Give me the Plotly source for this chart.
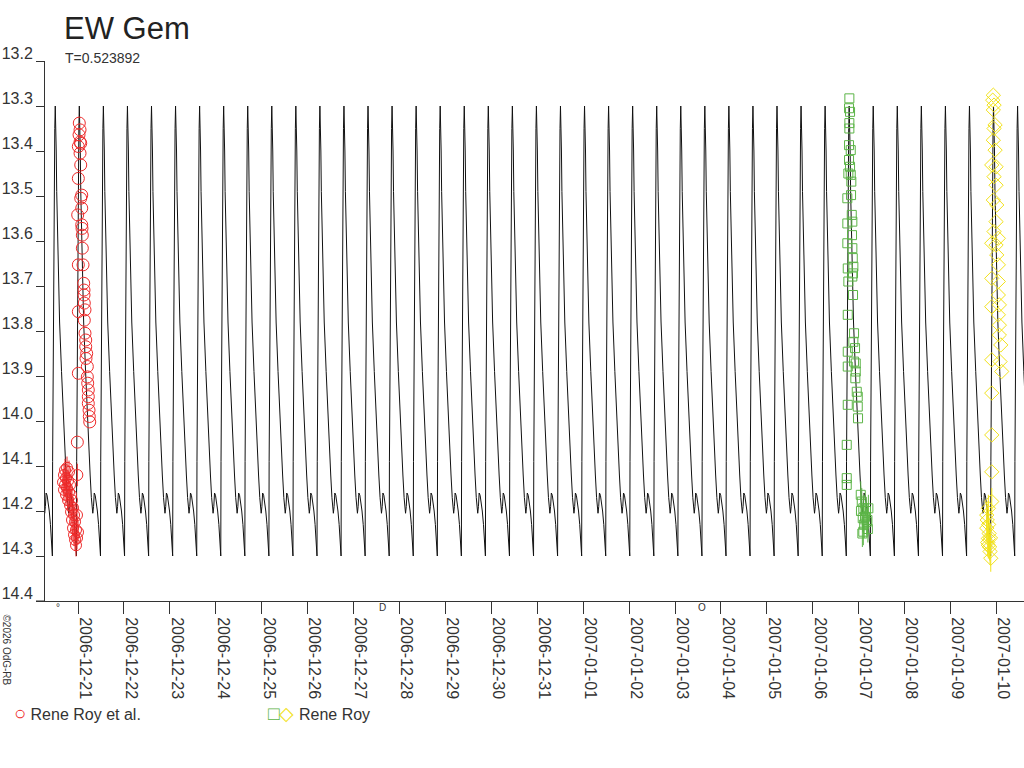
import numpy as np
import pandas as pd
import plotly.graph_objects as go

# times are JD - 2454000 (2006-12-21 00:00 UT = 90.5)
JD0 = 90.5
DATE0 = pd.Timestamp('2006-12-21')

# model light curve: one cycle (phase from minimum)
periode = 0.523892
epoque_min = 93.085
phase_modele = [0.00, 0.01, 0.04, 0.07, 0.10, 0.12, 0.14, 0.16, 0.18, 0.22, 0.30, 0.38, 0.46,
                0.52, 0.57, 0.62, 0.65, 0.68, 0.71, 0.74, 0.78, 0.82, 0.87, 0.92, 0.96]
mag_modele = [14.30, 14.09, 13.78, 13.49, 13.35, 13.30, 13.33, 13.40, 13.49, 13.62, 13.78, 13.89, 14.00,
              14.07, 14.12, 14.17, 14.19, 14.205, 14.19, 14.16, 14.165, 14.18, 14.20, 14.23, 14.27]

# Rene Roy et al. (red circles)
rouge_jd = [90.528, 90.544, 90.522, 90.559, 90.507, 90.544, 90.544, 90.559, 90.507, 90.581, 90.559,
            90.493, 90.581, 90.581, 90.587, 90.594, 90.594, 90.507, 90.609, 90.624, 90.631, 90.631,
            90.637, 90.507, 90.652, 90.637, 90.652, 90.668, 90.668, 90.689, 90.674, 90.507, 90.703,
            90.703, 90.711, 90.724, 90.724, 90.724, 90.740, 90.746, 90.755, 90.485]
rouge_mag = [13.338, 13.353, 13.364, 13.383, 13.390, 13.405, 13.380, 13.431, 13.461, 13.498, 13.505,
             13.542, 13.527, 13.564, 13.572, 13.587, 13.616, 13.653, 13.653, 13.694, 13.709, 13.720,
             13.738, 13.757, 13.753, 13.776, 13.805, 13.820, 13.835, 13.850, 13.861, 13.894, 13.879,
             13.902, 13.916, 13.931, 13.946, 13.961, 13.976, 13.990, 14.002, 14.047]
rouge2_jd = [90.173, 90.195, 90.195, 90.217, 90.217, 90.239, 90.239, 90.260, 90.260, 90.282, 90.282,
             90.304, 90.304, 90.326, 90.326, 90.348, 90.348, 90.369, 90.369, 90.391, 90.391, 90.413,
             90.413, 90.435, 90.435, 90.456, 90.456, 90.478, 90.478, 90.500, 90.485]
rouge2_mag = [14.136, 14.120, 14.153, 14.109, 14.142, 14.127, 14.164, 14.104, 14.149, 14.133, 14.176,
              14.113, 14.158, 14.142, 14.187, 14.164, 14.202, 14.176, 14.220, 14.193, 14.238, 14.209,
              14.253, 14.224, 14.264, 14.242, 14.276, 14.209, 14.260, 14.247, 14.120]

# Rene Roy (green squares)
vert_jd = [107.297, 107.290, 107.312, 107.297, 107.297, 107.290, 107.327, 107.290, 107.312, 107.275,
           107.327, 107.340, 107.334, 107.253, 107.349, 107.362, 107.253, 107.355, 107.253, 107.362,
           107.371, 107.262, 107.384, 107.377, 107.362, 107.275, 107.377, 107.262, 107.399, 107.384,
           107.262, 107.421, 107.399, 107.262, 107.436, 107.436, 107.427, 107.262, 107.458, 107.480,
           107.480, 107.486, 107.240, 107.240, 107.240]
vert_mag = [13.283, 13.305, 13.313, 13.338, 13.350, 13.387, 13.398, 13.420, 13.435, 13.450,
            13.453, 13.468, 13.498, 13.505, 13.542, 13.557, 13.561, 13.587, 13.605, 13.616,
            13.638, 13.661, 13.657, 13.672, 13.679, 13.690, 13.720, 13.764, 13.805, 13.824,
            13.846, 13.838, 13.868, 13.879, 13.872, 13.890, 13.905, 13.964, 13.935, 13.946,
            13.968, 13.994, 14.053, 14.127, 14.142]
vert2_jd = [107.545, 107.567, 107.601, 107.588, 107.639, 107.676, 107.711, 107.601, 107.550,
            107.620, 107.660, 107.690, 107.580, 107.700]
vert2_mag = [14.164, 14.179, 14.194, 14.216, 14.213, 14.224, 14.194, 14.246, 14.200,
             14.230, 14.200, 14.220, 14.250, 14.240]

# Rene Roy (yellow diamonds)
jaune_jd = [110.432, 110.419, 110.448, 110.432, 110.470, 110.448, 110.432, 110.470, 110.398, 110.491,
            110.448, 110.491, 110.432, 110.506, 110.491, 110.448, 110.541, 110.398, 110.491, 110.506,
            110.541, 110.398, 110.541, 110.541, 110.398, 110.563, 110.541, 110.563, 110.563, 110.594,
            110.398, 110.578, 110.615, 110.398, 110.398, 110.398]
jaune_mag = [13.276, 13.287, 13.298, 13.309, 13.342, 13.350, 13.376, 13.398, 13.431, 13.435,
             13.457, 13.476, 13.509, 13.520, 13.557, 13.579, 13.594, 13.605, 13.609, 13.631,
             13.653, 13.683, 13.690, 13.720, 13.746, 13.742, 13.764, 13.787, 13.809, 13.831,
             13.864, 13.868, 13.890, 13.938, 14.031, 14.113]
jaune2_jd = [110.398, 110.324, 110.289, 110.289, 110.324, 110.324, 110.361, 110.376, 110.300,
             110.340, 110.310, 110.350, 110.370, 110.330]
jaune2_mag = [14.179, 14.194, 14.209, 14.238, 14.261, 14.276, 14.290, 14.305, 14.220,
              14.250, 14.270, 14.280, 14.260, 14.230]

# moon phase marks under the axis
lune_jd = [90.065, 97.14, 104.09]
lune_txt = ['°', 'D', 'O']

x_debut, x_fin = 89.781, 111.10


def en_date(jd):
    return DATE0 + pd.to_timedelta(np.asarray(jd) - JD0, unit='D')


# tile the model cycle over the visible range
k0 = int(np.floor((x_debut - epoque_min) / periode)) - 1
k1 = int(np.ceil((x_fin - epoque_min) / periode)) + 1
t_mod, m_mod = [], []
for k in range(k0, k1):
    for p, m in zip(phase_modele, mag_modele):
        t_mod.append(epoque_min + (k + p) * periode)
        m_mod.append(m)

fig = go.Figure()
fig.add_trace(go.Scatter(x=en_date(t_mod), y=m_mod, mode='lines',
                         line=dict(color='#111111', width=1), hoverinfo='skip'))

rouge = '#ee2a2a'
vert = '#5cb447'
jaune = '#f2e21a'

fig.add_trace(go.Scatter(x=en_date(rouge2_jd), y=rouge2_mag, mode='markers',
                         marker=dict(symbol='circle-open', size=11, color=rouge, line=dict(width=1)),
                         error_y=dict(type='constant', value=0.025, color=rouge, thickness=1, width=0)))
fig.add_trace(go.Scatter(x=en_date(rouge_jd), y=rouge_mag, mode='markers',
                         marker=dict(symbol='circle-open', size=12, color=rouge, line=dict(width=1))))
fig.add_trace(go.Scatter(x=en_date(vert_jd), y=vert_mag, mode='markers',
                         marker=dict(symbol='square-open', size=9, color=vert, line=dict(width=1))))
fig.add_trace(go.Scatter(x=en_date(vert2_jd), y=vert2_mag, mode='markers',
                         marker=dict(symbol='square-open', size=9, color=vert, line=dict(width=1)),
                         error_y=dict(type='constant', value=0.03, color=vert, thickness=1, width=0)))
fig.add_trace(go.Scatter(x=en_date(jaune_jd), y=jaune_mag, mode='markers',
                         marker=dict(symbol='diamond-open', size=11, color=jaune, line=dict(width=1))))
fig.add_trace(go.Scatter(x=en_date(jaune2_jd), y=jaune2_mag, mode='markers',
                         marker=dict(symbol='diamond-open', size=11, color=jaune, line=dict(width=1)),
                         error_y=dict(type='constant', value=0.03, color=jaune, thickness=1, width=0)))

police = 'Liberation Sans, Arial, sans-serif'
fig.update_layout(
    width=1024, height=768,
    margin=dict(l=45, r=0, t=61, b=167),
    paper_bgcolor='white', plot_bgcolor='white',
    showlegend=False,
    font=dict(family=police, color='#333333'),
    xaxis=dict(type='date', range=[en_date(x_debut), en_date(x_fin)],
               tick0='2006-12-21', dtick=86400000, tickformat='%Y-%m-%d',
               tickangle=90, ticks='outside', ticklen=12, tickcolor='#333333',
               ticklabelshift=7, tickfont=dict(size=16, color='#333333'), automargin=False,
               showline=True, linecolor='#333333', showgrid=False, zeroline=False),
    yaxis=dict(range=[14.4, 13.2], dtick=0.1, tick0=13.2, tickformat='.1f',
               ticks='outside', ticklen=8, tickcolor='#333333', ticklabelshift=8,
               tickfont=dict(size=16, color='#333333'), automargin=False,
               showline=True, linecolor='#333333', showgrid=False, zeroline=False),
)

# x axis line runs a little to the left of the y axis
fig.add_shape(type='line', xref='paper', yref='paper', x0=-(45 - 36) / 979, x1=0, y0=0, y1=0,
              line=dict(color='#333333', width=1))

fig.add_annotation(text='EW Gem', xref='paper', yref='paper', x=(62 - 45) / 979, y=1 + (61 - 28) / 540,
                   xanchor='left', yanchor='middle', showarrow=False,
                   font=dict(size=31, color='#222222', family=police))
fig.add_annotation(text='T=0.523892', xref='paper', yref='paper', x=(63 - 45) / 979, y=1 + (61 - 58) / 540,
                   xanchor='left', yanchor='middle', showarrow=False,
                   font=dict(size=14, color='#333333', family=police))
fig.add_annotation(text='©2026 OdG-RB', xref='paper', yref='paper', x=-(45 - 6) / 979, y=-(612 - 601) / 540,
                   xanchor='center', yanchor='top', textangle=90, showarrow=False,
                   font=dict(size=10, color='#333333', family=police))

for jd, txt in zip(lune_jd, lune_txt):
    fig.add_annotation(text=txt, x=en_date(jd), xref='x', yref='paper', y=-(607 - 601) / 540,
                       yanchor='middle', showarrow=False, font=dict(size=10, color='#333333', family=police))

# legend drawn as text
fig.add_annotation(text='<span style="color:%s;font-size:20px">○</span> Rene Roy et al.' % rouge,
                   xref='paper', yref='paper', x=-(45 - 12) / 979, y=-(713 - 601) / 540,
                   xanchor='left', yanchor='middle', showarrow=False,
                   font=dict(size=16, color='#333333', family=police))
fig.add_annotation(text='<span style="color:%s;font-size:19px">□</span><span style="color:%s;font-size:19px">◇</span> Rene Roy'
                        % (vert, jaune),
                   xref='paper', yref='paper', x=(266 - 45) / 979, y=-(713 - 601) / 540,
                   xanchor='left', yanchor='middle', showarrow=False,
                   font=dict(size=16, color='#333333', family=police))

# drop the page's default body margin so the figure sits at the top-left corner
fig.write_html('out.html', config={'displayModeBar': False},
               post_script="document.body.style.margin='0';")
